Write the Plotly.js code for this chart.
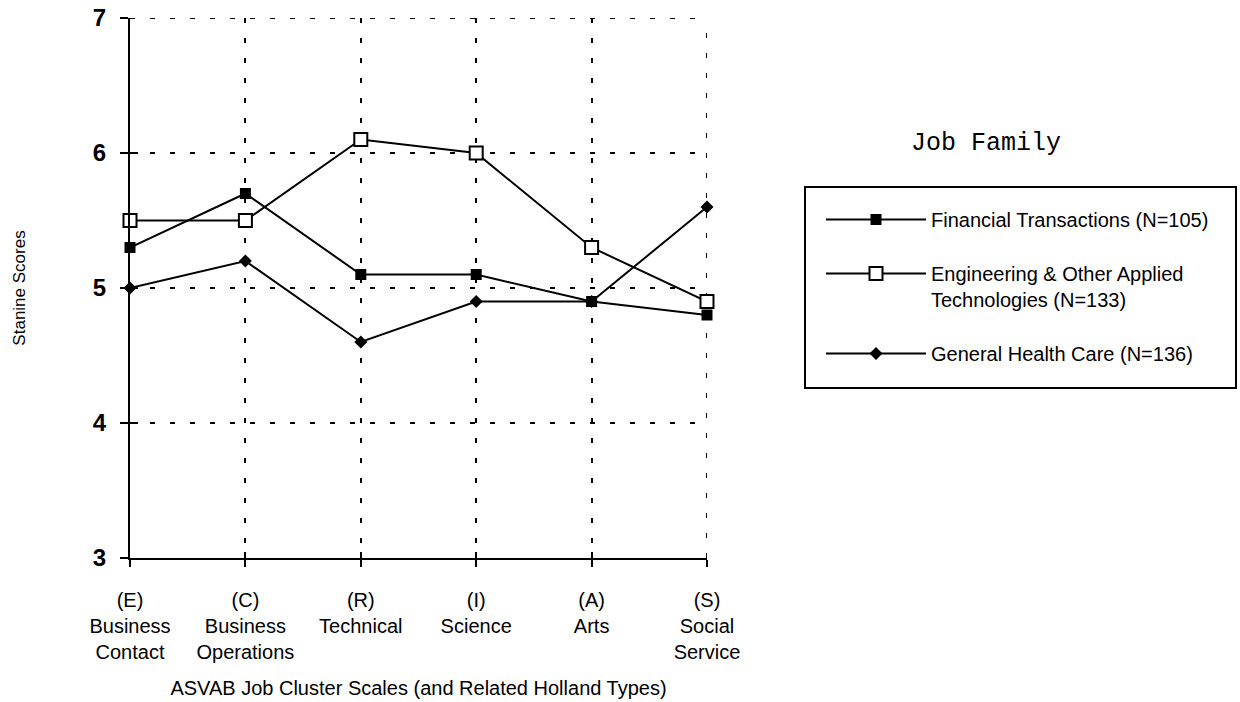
<!DOCTYPE html>
<html>
<head>
<meta charset="utf-8">
<script src="https://cdn.plot.ly/plotly-3.0.1.min.js"></script>
<style>
  html, body { margin: 0; padding: 0; background: #fff; }
  #chart { width: 1240px; height: 702px; }
</style>
</head>
<body>
<div id="chart"></div>
<script>
// ASVAB job cluster scales (with related Holland types)
const clusterCodes = ['(E)', '(C)', '(R)', '(I)', '(A)', '(S)'];
const clusterNames = ['Business<br>Contact', 'Business<br>Operations', 'Technical', 'Science', 'Arts', 'Social<br>Service'];

// Mean stanine scores per job family
const financialScores = [5.3, 5.7, 5.1, 5.1, 4.9, 4.8];
const engineeringScores = [5.5, 5.5, 6.1, 6.0, 5.3, 4.9];
const healthScores = [5.0, 5.2, 4.6, 4.9, 4.9, 5.6];

const familyNames = [
  'Financial Transactions (N=105)',
  'Engineering & Other Applied<br>Technologies (N=133)',
  'General Health Care (N=136)'
];

const yTicks = [3, 4, 5, 6, 7];
const yMin = yTicks[0];
const yMax = yTicks[yTicks.length - 1];

const positions = clusterCodes.map((_, i) => i);
const xMax = positions[positions.length - 1];
const tickLabels = clusterCodes.map((c, i) => c + '<br>' + clusterNames[i]);

const baseLine = { color: '#000', width: 2 };

const traces = [
  {
    x: positions, y: financialScores, name: familyNames[0],
    mode: 'lines+markers', line: baseLine, legendgroup: 'a', cliponaxis: false,
    marker: { symbol: 'square', size: 11, color: '#000' }
  },
  {
    x: positions, y: engineeringScores, name: familyNames[1],
    mode: 'lines+markers', line: baseLine, legendgroup: 'b', cliponaxis: false,
    marker: { symbol: 'square', size: 13, color: '#fff', line: { color: '#000', width: 2 } }
  },
  {
    x: positions, y: healthScores, name: familyNames[2],
    mode: 'lines+markers', line: baseLine, legendgroup: 'c', cliponaxis: false,
    marker: { symbol: 'diamond', size: 10, color: '#000' }
  },
  // transparent carrier so the companion axes (inner tick halves) get drawn
  {
    x: positions, y: financialScores, xaxis: 'x2', yaxis: 'y2',
    mode: 'markers', marker: { opacity: 0 }, showlegend: false, hoverinfo: 'skip'
  }
];

const sans = 'Liberation Sans, Arial, Helvetica, sans-serif';
const gridDash = '5px,15px';

// Px -> paper helpers for the plot frame (l=130, t=18, w=577, h=540)
const px2x = p => (p - 130) / 577;
const px2y = p => (558 - p) / 540;

const layout = {
  width: 1240, height: 702,
  paper_bgcolor: '#fff', plot_bgcolor: '#fff',
  margin: { l: 130, r: 533, t: 18, b: 144 },
  font: { family: sans, color: '#000' },
  showlegend: true,
  xaxis: {
    range: [0, xMax],
    tickmode: 'array', tickvals: positions, ticktext: tickLabels,
    tickfont: { size: 20, family: sans },
    ticks: 'outside', ticklen: 7, tickcolor: '#000', tickwidth: 2,
    ticklabelstandoff: 16,
    showline: true, linecolor: '#000', linewidth: 2,
    showgrid: true, gridcolor: '#000', gridwidth: 2, griddash: gridDash,
    zeroline: false, fixedrange: true,
    title: { text: 'ASVAB Job Cluster Scales (and Related Holland Types)', font: { size: 20, family: sans }, standoff: 19 }
  },
  yaxis: {
    range: [yMin, yMax],
    tickmode: 'array', tickvals: yTicks,
    tickfont: { size: 24, family: sans, weight: 'bold' },
    ticks: 'outside', ticklen: 8, tickcolor: '#000', tickwidth: 2,
    ticklabelstandoff: 9,
    showline: true, linecolor: '#000', linewidth: 2,
    showgrid: true, gridcolor: '#000', gridwidth: 2, griddash: gridDash,
    zeroline: false, fixedrange: true,
    title: { text: 'Stanine Scores', font: { size: 17, family: sans }, standoff: 63 }
  },
  // companion axes that draw the inner half of each crossing tick
  xaxis2: {
    overlaying: 'x', range: [0, xMax], anchor: 'y2', side: 'bottom',
    tickmode: 'array', tickvals: positions, showticklabels: false,
    ticks: 'inside', ticklen: 6, tickcolor: '#000', tickwidth: 2,
    showgrid: false, zeroline: false, showline: false, fixedrange: true
  },
  yaxis2: {
    overlaying: 'y', range: [yMin, yMax], anchor: 'x2', side: 'left',
    tickmode: 'array', tickvals: yTicks, showticklabels: false,
    ticks: 'inside', ticklen: 8, tickcolor: '#000', tickwidth: 2,
    showgrid: false, zeroline: false, showline: false, fixedrange: true
  },
  legend: {
    x: px2x(821), xanchor: 'left', y: px2y(200), yanchor: 'top',
    borderwidth: 0, bgcolor: 'rgba(0,0,0,0)',
    font: { size: 20, family: sans },
    traceorder: 'grouped', tracegroupgap: 25, valign: 'top',
    itemwidth: 100
  },
  shapes: [
    // closing dashed lines along the top and right of the frame
    { type: 'line', xref: 'x', yref: 'y', x0: 0, x1: xMax, y0: yMax, y1: yMax,
      line: { color: '#000', width: 2, dash: gridDash }, layer: 'below' },
    { type: 'line', xref: 'x', yref: 'y', x0: xMax, x1: xMax, y0: yMin, y1: yMax,
      line: { color: '#000', width: 2, dash: gridDash }, layer: 'below' },
    // legend frame
    { type: 'rect', xref: 'paper', yref: 'paper',
      x0: px2x(805), x1: px2x(1236), y0: px2y(388), y1: px2y(187),
      line: { color: '#000', width: 2 }, fillcolor: 'rgba(0,0,0,0)' }
  ],
  annotations: [
    {
      xref: 'paper', yref: 'paper', x: px2x(986), y: px2y(143), xanchor: 'center', yanchor: 'middle',
      text: 'Job Family', showarrow: false,
      font: { size: 25, family: 'Liberation Mono, Courier New, monospace', color: '#000' }
    }
  ]
};

Plotly.newPlot('chart', traces, layout, { displayModeBar: false, staticPlot: true });
</script>
</body>
</html>
